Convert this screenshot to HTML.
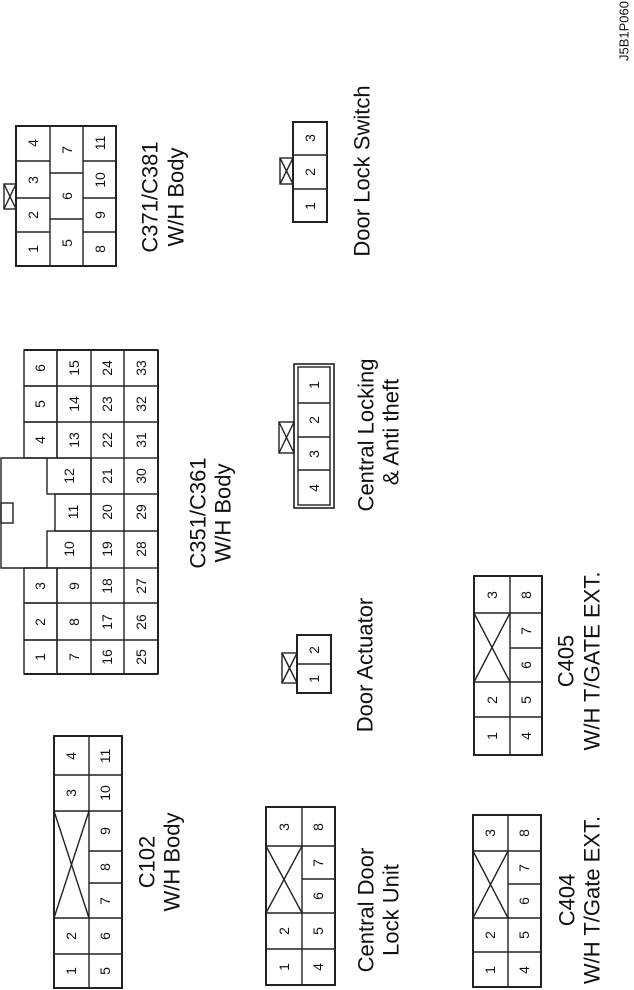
<!DOCTYPE html>
<html><head><meta charset="utf-8"><style>
html,body{margin:0;padding:0;background:#fff;}
svg{display:block;}
text{font-family:"Liberation Sans",Arial,sans-serif;fill:#111;}
.n{font-size:14px;}
.l{font-size:22px;}
</style></head><body>
<svg width="634" height="990" viewBox="0 0 634 990" xmlns="http://www.w3.org/2000/svg">
<g fill="none" stroke="#222" stroke-width="1.4">
<rect x="16" y="126" width="100" height="140" stroke-width="2"/>
<line x1="50" y1="126" x2="50" y2="266"/><line x1="83" y1="126" x2="83" y2="266"/>
<line x1="16" y1="161" x2="50" y2="161"/><line x1="16" y1="198" x2="50" y2="198"/><line x1="16" y1="232" x2="50" y2="232"/>
<line x1="50" y1="173" x2="83" y2="173"/><line x1="50" y1="219" x2="83" y2="219"/>
<line x1="83" y1="161" x2="116" y2="161"/><line x1="83" y1="198" x2="116" y2="198"/><line x1="83" y1="232" x2="116" y2="232"/>
<rect x="4" y="184" width="12" height="25"/><line x1="4" y1="184" x2="16" y2="209"/><line x1="16" y1="184" x2="4" y2="209"/>
<rect x="293" y="122" width="34" height="100" stroke-width="2"/>
<line x1="293" y1="155" x2="327" y2="155"/><line x1="293" y1="189" x2="327" y2="189"/>
<rect x="280" y="158" width="13" height="26"/><line x1="280" y1="158" x2="293" y2="184"/><line x1="293" y1="158" x2="280" y2="184"/>
<rect x="24" y="350" width="33" height="36"/><rect x="24" y="386" width="33" height="36"/><rect x="24" y="422" width="33" height="36"/>
<rect x="24" y="568" width="33" height="35"/><rect x="24" y="603" width="33" height="37"/><rect x="24" y="640" width="33" height="34"/>
<rect x="57" y="350" width="101" height="108"/>
<rect x="57" y="568" width="101" height="106"/>
<line x1="57" y1="386" x2="158" y2="386"/><line x1="57" y1="422" x2="158" y2="422"/>
<line x1="57" y1="603" x2="158" y2="603"/><line x1="57" y1="640" x2="158" y2="640"/>
<line x1="91" y1="350" x2="91" y2="674"/><line x1="124" y1="350" x2="124" y2="674"/>
<line x1="158" y1="458" x2="158" y2="568"/>
<rect x="47" y="458" width="44" height="36"/><rect x="55" y="494" width="36" height="37"/><rect x="47" y="531" width="44" height="37"/>
<line x1="91" y1="494" x2="158" y2="494"/><line x1="91" y1="531" x2="158" y2="531"/>
<polyline points="47,458 1,458 1,568 47,568"/>
<rect x="1" y="503" width="12" height="20"/>
<line x1="24" y1="350" x2="158" y2="350" stroke-width="2"/><line x1="24" y1="674" x2="158" y2="674" stroke-width="2"/><line x1="158" y1="350" x2="158" y2="674" stroke-width="2"/>
<rect x="294" y="364" width="40" height="144" stroke-width="1.6"/>
<rect x="298" y="367" width="32" height="138"/>
<line x1="298" y1="403" x2="330" y2="403"/><line x1="298" y1="437" x2="330" y2="437"/><line x1="298" y1="470" x2="330" y2="470"/>
<rect x="279" y="422" width="15" height="31"/><line x1="279" y1="422" x2="294" y2="453"/><line x1="294" y1="422" x2="279" y2="453"/>
<rect x="297" y="635" width="34" height="58" stroke-width="2"/>
<line x1="297" y1="664" x2="331" y2="664"/>
<rect x="282" y="653" width="15" height="30"/><line x1="282" y1="653" x2="297" y2="683"/><line x1="297" y1="653" x2="282" y2="683"/>
<rect x="54" y="736" width="68" height="252" stroke-width="2"/>
<line x1="89" y1="736" x2="89" y2="988"/>
<line x1="54" y1="775" x2="122" y2="775"/><line x1="54" y1="811" x2="122" y2="811"/>
<line x1="89" y1="851" x2="122" y2="851"/><line x1="89" y1="883" x2="122" y2="883"/>
<line x1="54" y1="918" x2="122" y2="918"/><line x1="54" y1="954" x2="122" y2="954"/>
<line x1="54" y1="811" x2="89" y2="918"/><line x1="89" y1="811" x2="54" y2="918"/>
<rect x="266" y="807" width="69" height="178" stroke-width="2"/>
<line x1="302" y1="807" x2="302" y2="985"/>
<line x1="266" y1="846" x2="335" y2="846"/><line x1="302" y1="879" x2="335" y2="879"/>
<line x1="266" y1="913" x2="335" y2="913"/><line x1="266" y1="949" x2="335" y2="949"/>
<line x1="266" y1="846" x2="302" y2="913"/><line x1="302" y1="846" x2="266" y2="913"/>
<rect x="474" y="576" width="68" height="179" stroke-width="2"/>
<line x1="510" y1="576" x2="510" y2="755"/>
<line x1="474" y1="613" x2="542" y2="613"/><line x1="510" y1="648" x2="542" y2="648"/>
<line x1="474" y1="682" x2="542" y2="682"/><line x1="474" y1="717" x2="542" y2="717"/>
<line x1="474" y1="613" x2="510" y2="682"/><line x1="510" y1="613" x2="474" y2="682"/>
<rect x="473" y="815" width="68" height="172" stroke-width="2"/>
<line x1="508" y1="815" x2="508" y2="987"/>
<line x1="473" y1="851" x2="541" y2="851"/><line x1="508" y1="884" x2="541" y2="884"/>
<line x1="473" y1="918" x2="541" y2="918"/><line x1="473" y1="952" x2="541" y2="952"/>
<line x1="473" y1="851" x2="508" y2="918"/><line x1="508" y1="851" x2="473" y2="918"/>
</g>
<g class="n" text-anchor="middle" dominant-baseline="central">
<text transform="translate(33,143) rotate(-90)">4</text><text transform="translate(33,180) rotate(-90)">3</text><text transform="translate(33,215) rotate(-90)">2</text><text transform="translate(33,249) rotate(-90)">1</text>
<text transform="translate(67,150) rotate(-90)">7</text><text transform="translate(67,196) rotate(-90)">6</text><text transform="translate(67,243) rotate(-90)">5</text>
<text transform="translate(100,143) rotate(-90)">11</text><text transform="translate(100,180) rotate(-90)">10</text><text transform="translate(100,215) rotate(-90)">9</text><text transform="translate(100,249) rotate(-90)">8</text>
<text transform="translate(310,138) rotate(-90)">3</text><text transform="translate(310,172) rotate(-90)">2</text><text transform="translate(310,206) rotate(-90)">1</text>
<text transform="translate(40,368) rotate(-90)">6</text><text transform="translate(40,404) rotate(-90)">5</text><text transform="translate(40,440) rotate(-90)">4</text>
<text transform="translate(40,586) rotate(-90)">3</text><text transform="translate(40,622) rotate(-90)">2</text><text transform="translate(40,657) rotate(-90)">1</text>
<text transform="translate(74,368) rotate(-90)">15</text><text transform="translate(74,404) rotate(-90)">14</text><text transform="translate(74,440) rotate(-90)">13</text>
<text transform="translate(69,476) rotate(-90)">12</text><text transform="translate(73,512) rotate(-90)">11</text><text transform="translate(69,549) rotate(-90)">10</text>
<text transform="translate(74,586) rotate(-90)">9</text><text transform="translate(74,622) rotate(-90)">8</text><text transform="translate(74,657) rotate(-90)">7</text>
<text transform="translate(107,368) rotate(-90)">24</text><text transform="translate(107,404) rotate(-90)">23</text><text transform="translate(107,440) rotate(-90)">22</text><text transform="translate(107,476) rotate(-90)">21</text><text transform="translate(107,512) rotate(-90)">20</text><text transform="translate(107,549) rotate(-90)">19</text><text transform="translate(107,586) rotate(-90)">18</text><text transform="translate(107,622) rotate(-90)">17</text><text transform="translate(107,657) rotate(-90)">16</text>
<text transform="translate(141,368) rotate(-90)">33</text><text transform="translate(141,404) rotate(-90)">32</text><text transform="translate(141,440) rotate(-90)">31</text><text transform="translate(141,476) rotate(-90)">30</text><text transform="translate(141,512) rotate(-90)">29</text><text transform="translate(141,549) rotate(-90)">28</text><text transform="translate(141,586) rotate(-90)">27</text><text transform="translate(141,622) rotate(-90)">26</text><text transform="translate(141,657) rotate(-90)">25</text>
<text transform="translate(314,385) rotate(-90)">1</text><text transform="translate(314,420) rotate(-90)">2</text><text transform="translate(314,454) rotate(-90)">3</text><text transform="translate(314,488) rotate(-90)">4</text>
<text transform="translate(314,650) rotate(-90)">2</text><text transform="translate(314,679) rotate(-90)">1</text>
<text transform="translate(71,756) rotate(-90)">4</text><text transform="translate(71,793) rotate(-90)">3</text><text transform="translate(71,936) rotate(-90)">2</text><text transform="translate(71,971) rotate(-90)">1</text>
<text transform="translate(105,756) rotate(-90)">11</text><text transform="translate(105,793) rotate(-90)">10</text><text transform="translate(105,831) rotate(-90)">9</text><text transform="translate(105,867) rotate(-90)">8</text><text transform="translate(105,901) rotate(-90)">7</text><text transform="translate(105,936) rotate(-90)">6</text><text transform="translate(105,971) rotate(-90)">5</text>
<text transform="translate(284,827) rotate(-90)">3</text><text transform="translate(284,931) rotate(-90)">2</text><text transform="translate(284,967) rotate(-90)">1</text>
<text transform="translate(318,827) rotate(-90)">8</text><text transform="translate(318,863) rotate(-90)">7</text><text transform="translate(318,896) rotate(-90)">6</text><text transform="translate(318,931) rotate(-90)">5</text><text transform="translate(318,967) rotate(-90)">4</text>
<text transform="translate(492,595) rotate(-90)">3</text><text transform="translate(492,700) rotate(-90)">2</text><text transform="translate(492,736) rotate(-90)">1</text>
<text transform="translate(526,595) rotate(-90)">8</text><text transform="translate(526,631) rotate(-90)">7</text><text transform="translate(526,665) rotate(-90)">6</text><text transform="translate(526,700) rotate(-90)">5</text><text transform="translate(526,736) rotate(-90)">4</text>
<text transform="translate(490,833) rotate(-90)">3</text><text transform="translate(490,935) rotate(-90)">2</text><text transform="translate(490,970) rotate(-90)">1</text>
<text transform="translate(524,833) rotate(-90)">8</text><text transform="translate(524,868) rotate(-90)">7</text><text transform="translate(524,901) rotate(-90)">6</text><text transform="translate(524,935) rotate(-90)">5</text><text transform="translate(524,970) rotate(-90)">4</text>
</g>
<g class="l" text-anchor="middle" dominant-baseline="central">
<text transform="translate(150,197) rotate(-90)">C371/C381</text>
<text transform="translate(176,197) rotate(-90)">W/H Body</text>
<text transform="translate(362,171) rotate(-90)">Door Lock Switch</text>
<text transform="translate(198,513) rotate(-90)">C351/C361</text>
<text transform="translate(223,513) rotate(-90)">W/H Body</text>
<text transform="translate(366,435) rotate(-90)">Central Locking</text>
<text transform="translate(391,432) rotate(-90)">&amp; Anti theft</text>
<text transform="translate(365,665) rotate(-90)">Door Actuator</text>
<text transform="translate(147,862) rotate(-90)">C102</text>
<text transform="translate(172,862) rotate(-90)">W/H Body</text>
<text transform="translate(366,910) rotate(-90)">Central Door</text>
<text transform="translate(391,910) rotate(-90)">Lock Unit</text>
<text transform="translate(566,661) rotate(-90)">C405</text>
<text transform="translate(592,661) rotate(-90)">W/H T/GATE EXT.</text>
<text transform="translate(567,900) rotate(-90)">C404</text>
<text transform="translate(592,900) rotate(-90)">W/H T/Gate EXT.</text>
<text transform="translate(624,31) rotate(-90)" style="font-size:13px">J5B1P060</text>
</g>
</svg>
</body></html>
